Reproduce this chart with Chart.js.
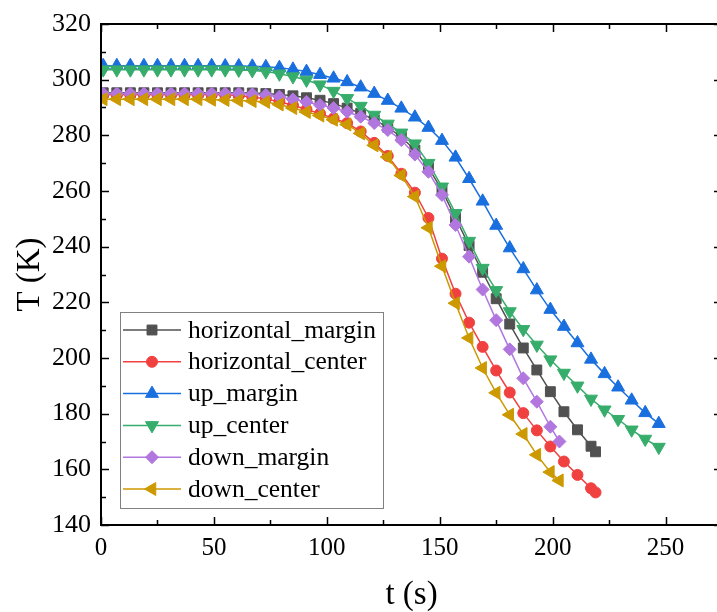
<!DOCTYPE html>
<html>
<head>
<meta charset="utf-8">
<script src="https://cdn.jsdelivr.net/npm/chart.js@4.4.0/dist/chart.umd.min.js"></script>
<style>
  html, body { margin: 0; padding: 0; background: #fff; overflow: hidden; }
  canvas { display: block; }
</style>
</head>
<body>
<!-- wider than the window: the right frame line sits just past the visible edge -->
<canvas id="chart" width="730" height="612"></canvas>
<script>
// time stamps (s) of each series
const tLong = [1, 7, 13, 19, 25, 31, 37, 43, 49, 55, 61, 67, 73, 79, 85, 91, 97, 103, 109, 115, 121,
  127, 133, 139, 145, 151, 157, 163, 169, 175, 181, 187, 193, 199, 205, 211, 217, 223, 229, 235, 241, 247];
const tHoriz = [1, 7, 13, 19, 25, 31, 37, 43, 49, 55, 61, 67, 73, 79, 85, 91, 97, 103, 109, 115, 121,
  127, 133, 139, 145, 151, 157, 163, 169, 175, 181, 187, 193, 199, 205, 211, 217, 219];
const tDown = [1, 7, 13, 19, 25, 31, 37, 43, 49, 55, 61, 67, 73, 79, 85, 91, 97, 103, 109, 115, 121,
  127, 133, 139, 145, 151, 157, 163, 169, 175, 181, 187, 193, 199, 203];

// temperatures (K)
const horizontalMargin = [295.3, 295.3, 295.3, 295.3, 295.3, 295.3, 295.3, 295.3, 295.3, 295.3, 295.3,
  295.2, 295.0, 294.7, 294.2, 293.5, 292.6, 291.4, 289.8, 287.9, 285.6, 282.9, 279.4, 274.7, 268.4,
  260.3, 250.3, 240.4, 230.8, 221.3, 212.2, 203.6, 195.7, 187.9, 180.7, 174.2, 168.3, 166.3];
const horizontalCenter = [294.6, 294.6, 294.6, 294.6, 294.6, 294.6, 294.6, 294.6, 294.6, 294.6,
  294.3, 293.8, 293.1, 292.1, 290.8, 289.3, 287.8, 286.1, 284.4, 281.4, 277.3, 272.6, 266.2, 259.4,
  250.3, 235.7, 223.1, 212.7, 204.0, 195.5, 187.6, 180.2, 174.0, 168.2, 162.8, 158.0, 153.2, 151.7];
const upMargin = [305.0, 305.0, 305.0, 305.0, 305.0, 305.0, 305.0, 305.0, 305.0, 304.9, 304.9,
  304.8, 304.6, 304.3, 303.7, 302.9, 301.8, 300.5, 299.2, 297.3, 295.0, 292.5, 289.7, 286.5, 282.8,
  278.1, 272.1, 264.4, 256.3, 247.6, 239.5, 232.0, 224.4, 217.4, 211.3, 205.4, 199.5, 194.3, 189.5,
  184.8, 180.3, 176.4];
const upCenter = [303.6, 303.6, 303.6, 303.6, 303.6, 303.6, 303.6, 303.6, 303.6, 303.6, 303.5,
  303.3, 302.9, 302.1, 301.1, 299.9, 298.2, 295.9, 293.3, 290.5, 287.3, 284.1, 280.9, 277.0, 270.0,
  261.5, 252.0, 242.0, 232.3, 224.3, 216.7, 210.3, 204.7, 199.4, 194.6, 190.0, 185.3, 181.4, 178.0,
  174.2, 170.9, 168.0];
const downMargin = [295.0, 295.0, 295.0, 295.0, 295.0, 295.0, 295.0, 295.0, 295.0, 295.0, 295.0,
  294.8, 294.5, 293.9, 292.9, 292.0, 290.9, 289.8, 288.5, 286.7, 284.4, 281.9, 278.3, 273.1, 266.9,
  258.6, 247.8, 236.4, 224.6, 213.6, 203.1, 192.7, 184.3, 175.3, 170.0];
const downCenter = [293.0, 293.0, 293.0, 293.0, 293.0, 293.0, 293.0, 293.0, 292.8, 292.7, 292.5,
  292.3, 292.0, 291.1, 289.8, 288.4, 287.1, 285.6, 283.9, 280.7, 276.4, 272.2, 265.6, 258.0, 246.8,
  233.0, 219.7, 207.2, 196.4, 187.5, 179.6, 172.7, 165.2, 159.0, 156.0];

const xTicks = [0, 50, 100, 150, 200, 250];
const yTicks = [140, 160, 180, 200, 220, 240, 260, 280, 300, 320];

const serif = "'Times New Roman', 'Liberation Serif', serif";

function pts(ts, vs) {
  return ts.map((t, i) => ({ x: t, y: vs[i] }));
}

const series = [
  { label: 'horizontal_margin', data: pts(tHoriz, horizontalMargin), color: '#515151', style: 'rect', r: 7, rot: 0 },
  { label: 'horizontal_center', data: pts(tHoriz, horizontalCenter), color: '#F14040', style: 'circle', r: 5.5, rot: 0 },
  { label: 'up_margin', data: pts(tLong, upMargin), color: '#1A6FDF', style: 'triangle', r: 7.5, rot: 0 },
  { label: 'up_center', data: pts(tLong, upCenter), color: '#37AD6B', style: 'triangle', r: 7.5, rot: 180 },
  { label: 'down_margin', data: pts(tDown, downMargin), color: '#B177DE', style: 'rectRot', r: 6.5, rot: 0 },
  { label: 'down_center', data: pts(tDown, downCenter), color: '#CC9900', style: 'triangle', r: 7.5, rot: -90 }
];

// box frame with inward ticks on all four sides
const frameTicks = {
  id: 'frameTicks',
  afterDatasetsDraw(chart) {
    const { ctx, chartArea: a, scales: { x, y } } = chart;
    ctx.save();
    ctx.strokeStyle = '#000';
    ctx.lineWidth = 1.5;
    ctx.beginPath();
    xTicks.forEach(v => {
      [[v, 8], [v + 25, 5]].forEach(([val, len]) => {
        const px = Math.round(x.getPixelForValue(val)) + 0.5;
        ctx.moveTo(px, a.bottom); ctx.lineTo(px, a.bottom - len);
        ctx.moveTo(px, a.top); ctx.lineTo(px, a.top + len);
      });
    });
    yTicks.forEach(v => {
      [[v, 8], [v + 10, 5]].forEach(([val, len]) => {
        if (val > 320) return;
        const py = Math.round(y.getPixelForValue(val)) + 0.5;
        ctx.moveTo(a.left, py); ctx.lineTo(a.left + len, py);
        ctx.moveTo(a.right, py); ctx.lineTo(a.right - len, py);
      });
    });
    ctx.stroke();
    ctx.lineWidth = 2;
    ctx.strokeRect(a.left, a.top, a.right - a.left, a.bottom - a.top);
    ctx.restore();
  }
};

// Origin-style legend box
const boxLegend = {
  id: 'boxLegend',
  afterDraw(chart) {
    const ctx = chart.ctx;
    const bx = 120, by = 312, bw = 263, bh = 196, row = 31.8;
    ctx.save();
    ctx.fillStyle = '#fff';
    ctx.fillRect(bx, by, bw, bh);
    ctx.strokeStyle = '#808080';
    ctx.lineWidth = 1;
    ctx.strokeRect(bx + 0.5, by + 0.5, bw, bh);
    chart.data.datasets.forEach((ds, i) => {
      const cy = by + 18 + i * row;
      ctx.strokeStyle = ds.borderColor;
      ctx.lineWidth = 1.5;
      ctx.beginPath();
      ctx.moveTo(bx + 3, cy);
      ctx.lineTo(bx + 61, cy);
      ctx.stroke();
      ctx.fillStyle = ds.pointBackgroundColor;
      ctx.strokeStyle = ds.pointBorderColor;
      ctx.lineWidth = 1;
      Chart.helpers.drawPoint(ctx, {
        pointStyle: ds.pointStyle, radius: ds.pointRadius,
        rotation: ds.pointRotation, borderWidth: 1
      }, bx + 32, cy);
      ctx.fillStyle = '#000';
      ctx.font = '25.5px ' + serif;
      ctx.textBaseline = 'alphabetic';
      ctx.textAlign = 'left';
      ctx.fillText(ds.label, bx + 68, cy + 7.5);
    });
    ctx.restore();
  }
};

new Chart(document.getElementById('chart'), {
  type: 'line',
  data: {
    datasets: series.map((s, i) => ({
      label: s.label,
      data: s.data,
      borderColor: s.color,
      backgroundColor: s.color,
      pointBackgroundColor: s.color,
      pointBorderColor: s.color,
      pointBorderWidth: 1,
      pointStyle: s.style,
      pointRadius: s.r,
      pointRotation: s.rot,
      borderWidth: 1.5,
      tension: 0,
      fill: false,
      order: series.length - i
    }))
  },
  options: {
    responsive: false,
    animation: false,
    devicePixelRatio: 1,
    layout: { autoPadding: false, padding: { left: 0, top: 24, right: 8, bottom: 0 } },
    plugins: { legend: { display: false }, tooltip: { enabled: false } },
    scales: {
      x: {
        type: 'linear',
        min: 0,
        max: 275,
        grid: { display: false, drawTicks: false },
        border: { display: false },
        afterBuildTicks: s => { s.ticks = xTicks.map(v => ({ value: v })); },
        afterFit: s => { s.height = 87; s.paddingLeft = 0; s.paddingRight = 0; },
        ticks: { color: '#000', padding: 8, maxRotation: 0, font: { family: serif, size: 25 } },
        title: {
          display: true, text: 't (s)', color: '#000',
          padding: { top: 0, bottom: 0 },
          font: { family: serif, size: 33, lineHeight: 1 }
        }
      },
      y: {
        type: 'linear',
        min: 140,
        max: 320,
        grid: { display: false, drawTicks: false },
        border: { display: false },
        afterBuildTicks: s => { s.ticks = yTicks.map(v => ({ value: v })); },
        afterFit: s => { s.width = 101; s.paddingTop = 0; s.paddingBottom = 0; },
        ticks: { color: '#000', padding: 10, font: { family: serif, size: 26 } },
        title: {
          display: true, text: 'T (K)', color: '#000',
          padding: { top: 14, bottom: 0 },
          font: { family: serif, size: 33, lineHeight: 1 }
        }
      }
    }
  },
  plugins: [frameTicks, boxLegend]
});
</script>
</body>
</html>
